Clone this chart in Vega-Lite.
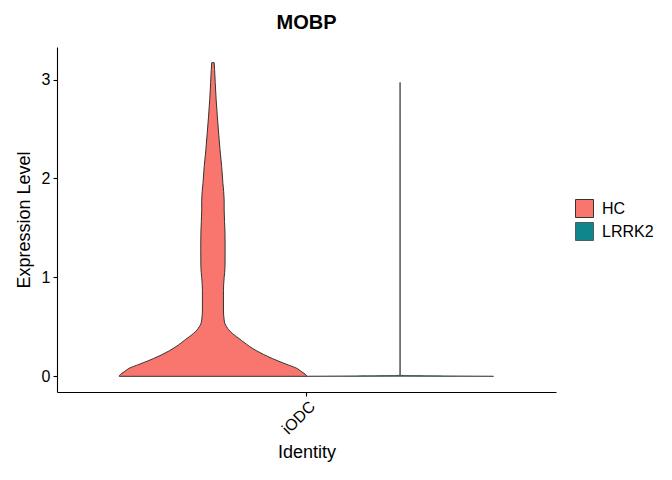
{
  "$schema": "https://vega.github.io/schema/vega-lite/v6.json",
  "width": 499,
  "height": 345,
  "autosize": {"type": "none"},
  "padding": {"left": 57, "top": 47, "right": 116, "bottom": 88},
  "title": {
    "text": "MOBP",
    "font": "Liberation Sans",
    "fontSize": 20,
    "fontWeight": "bold",
    "color": "#000000",
    "anchor": "middle",
    "offset": 14
  },
  "config": {
    "view": {"stroke": null},
    "font": "Liberation Sans",
    "axis": {
      "grid": false,
      "domainColor": "#000000",
      "domainWidth": 1.1,
      "tickColor": "#000000",
      "tickSize": 4,
      "tickWidth": 1.1,
      "labelColor": "#000000",
      "labelFontSize": 16,
      "labelFont": "Liberation Sans",
      "titleFont": "Liberation Sans",
      "titleFontSize": 18,
      "titleFontWeight": "normal",
      "titleColor": "#000000"
    }
  },
  "data": {
    "values": [
      {"group": "HC", "v": 0, "lo": 0.5495, "hi": 1.0005},
      {"group": "HC", "v": 0.01, "lo": 0.5505, "hi": 0.9995},
      {"group": "HC", "v": 0.03, "lo": 0.556, "hi": 0.994},
      {"group": "HC", "v": 0.05, "lo": 0.563, "hi": 0.987},
      {"group": "HC", "v": 0.08, "lo": 0.573, "hi": 0.977},
      {"group": "HC", "v": 0.12, "lo": 0.597, "hi": 0.953},
      {"group": "HC", "v": 0.16, "lo": 0.621, "hi": 0.929},
      {"group": "HC", "v": 0.2, "lo": 0.643, "hi": 0.907},
      {"group": "HC", "v": 0.24, "lo": 0.662, "hi": 0.888},
      {"group": "HC", "v": 0.28, "lo": 0.679, "hi": 0.871},
      {"group": "HC", "v": 0.32, "lo": 0.693, "hi": 0.857},
      {"group": "HC", "v": 0.365, "lo": 0.707, "hi": 0.843},
      {"group": "HC", "v": 0.4, "lo": 0.718, "hi": 0.832},
      {"group": "HC", "v": 0.433, "lo": 0.728, "hi": 0.822},
      {"group": "HC", "v": 0.47, "lo": 0.737, "hi": 0.813},
      {"group": "HC", "v": 0.5, "lo": 0.742, "hi": 0.808},
      {"group": "HC", "v": 0.53, "lo": 0.746, "hi": 0.804},
      {"group": "HC", "v": 0.57, "lo": 0.748, "hi": 0.802},
      {"group": "HC", "v": 0.67, "lo": 0.7497, "hi": 0.8003},
      {"group": "HC", "v": 0.87, "lo": 0.7497, "hi": 0.8003},
      {"group": "HC", "v": 1.0, "lo": 0.748, "hi": 0.802},
      {"group": "HC", "v": 1.1, "lo": 0.746, "hi": 0.804},
      {"group": "HC", "v": 1.28, "lo": 0.7457, "hi": 0.8043},
      {"group": "HC", "v": 1.45, "lo": 0.746, "hi": 0.804},
      {"group": "HC", "v": 1.68, "lo": 0.748, "hi": 0.802},
      {"group": "HC", "v": 1.78, "lo": 0.748, "hi": 0.802},
      {"group": "HC", "v": 1.95, "lo": 0.751, "hi": 0.799},
      {"group": "HC", "v": 2.12, "lo": 0.754, "hi": 0.796},
      {"group": "HC", "v": 2.29, "lo": 0.758, "hi": 0.792},
      {"group": "HC", "v": 2.46, "lo": 0.7613, "hi": 0.7887},
      {"group": "HC", "v": 2.63, "lo": 0.7645, "hi": 0.7855},
      {"group": "HC", "v": 2.8, "lo": 0.7673, "hi": 0.7827},
      {"group": "HC", "v": 2.97, "lo": 0.7695, "hi": 0.7805},
      {"group": "HC", "v": 3.1, "lo": 0.771, "hi": 0.779},
      {"group": "HC", "v": 3.17, "lo": 0.772, "hi": 0.778},
      {"group": "LRRK2", "v": 0, "lo": 1.0, "hi": 1.45},
      {"group": "LRRK2", "v": 0.004, "lo": 1.12, "hi": 1.33},
      {"group": "LRRK2", "v": 0.01, "lo": 1.2235, "hi": 1.2265},
      {"group": "LRRK2", "v": 0.03, "lo": 1.2246, "hi": 1.2254},
      {"group": "LRRK2", "v": 1.0, "lo": 1.2246, "hi": 1.2254},
      {"group": "LRRK2", "v": 2.0, "lo": 1.2246, "hi": 1.2254},
      {"group": "LRRK2", "v": 2.97, "lo": 1.2247, "hi": 1.2253}
    ]
  },
  "mark": {
    "type": "area",
    "orient": "horizontal",
    "interpolate": "monotone",
    "stroke": "#333333",
    "strokeJoin": "round"
  },
  "encoding": {
    "y": {
      "field": "v",
      "type": "quantitative",
      "title": "Expression Level",
      "scale": {"domain": [-0.1585, 3.3285], "nice": false, "zero": false},
      "axis": {"values": [0, 1, 2, 3], "titlePadding": 8, "labelPadding": 3}
    },
    "x": {
      "field": "lo",
      "type": "quantitative",
      "title": "Identity",
      "stack": null,
      "scale": {"domain": [0.4, 1.6], "nice": false, "zero": false},
      "axis": {
        "values": [1],
        "labelExpr": "'iODC'",
        "labelAngle": -45,
        "labelAlign": "right",
        "labelBaseline": "top",
        "labelPadding": 2,
        "titlePadding": 7
      }
    },
    "x2": {"field": "hi"},
    "strokeWidth": {
      "field": "group",
      "type": "nominal",
      "scale": {"domain": ["HC", "LRRK2"], "range": [1, 0.7]},
      "legend": null
    },
    "fill": {
      "field": "group",
      "type": "nominal",
      "scale": {"domain": ["HC", "LRRK2"], "range": ["#F8766D", "#0E868B"]},
      "legend": {
        "title": null,
        "orient": "none",
        "legendX": 518,
        "legendY": 152,
        "symbolType": "square",
        "symbolSize": 324,
        "symbolStrokeColor": "#333333",
        "symbolStrokeWidth": 1,
        "symbolOpacity": 1,
        "labelFontSize": 16,
        "labelColor": "#000000",
        "labelOffset": 8,
        "rowPadding": 1,
        "padding": 0
      }
    }
  }
}
